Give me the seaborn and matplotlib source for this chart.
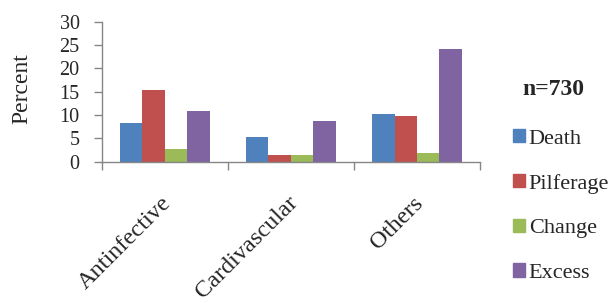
import matplotlib
matplotlib.use("Agg")
import matplotlib.pyplot as plt
from matplotlib.transforms import ScaledTranslation
import seaborn as sns
import pandas as pd

# values (percent)
categories = ["Antinfective", "Cardivascular", "Others"]
death = [8.4, 5.4, 10.3]
pilferage = [15.3, 1.5, 9.9]
change = [2.7, 1.5, 1.8]
excess = [10.9, 8.8, 24.1]
series = ["Death", "Pilferage", "Change", "Excess"]
colors = ["#4F81BD", "#C0504D", "#9BBB59", "#8064A2"]

rows = []
for name, vals in zip(series, [death, pilferage, change, excess]):
    for cat, v in zip(categories, vals):
        rows.append({"Category": cat, "Type": name, "Percent": v})
df = pd.DataFrame(rows)

sns.set_style("white")
plt.rcParams['font.family'] = ['Liberation Serif', 'DejaVu Serif']

fig = plt.figure(figsize=(6.13, 3.03), dpi=100)
ax = fig.add_axes([0.166, 0.466, 0.617, 0.462])

sns.barplot(data=df, x="Category", y="Percent", hue="Type", hue_order=series,
            palette=colors, saturation=1, width=0.71, gap=0, linewidth=0,
            ax=ax, legend=False)

grey = "#868686"
ax.set_ylim(0, 30)
ax.set_xlim(-0.5, 2.5)
ax.set_yticks(range(0, 31, 5))
ax.tick_params(axis="y", length=6, width=1, color=grey, labelsize=14.5, pad=10, direction="out", left=True)
ax.set_xticks([-0.5, 0.5, 1.5, 2.5], minor=True)
ax.tick_params(axis="x", which="minor", length=6, width=1, color=grey, direction="out", bottom=True)
ax.tick_params(axis="x", which="major", length=0, labelsize=17.5, pad=22)
# nudge the rotated category labels so they end near the group centre
shift = ScaledTranslation(-4 / 100, 0, fig.dpi_scale_trans)
for lbl in ax.get_xticklabels():
    lbl.set_rotation(45)
    lbl.set_ha("right")
    lbl.set_rotation_mode("anchor")
    lbl.set_transform(lbl.get_transform() + shift)

sns.despine(ax=ax, top=True, right=True)
for s in ["left", "bottom"]:
    ax.spines[s].set_color(grey)
    ax.spines[s].set_linewidth(1)

ax.set_xlabel("")
ax.set_ylabel("Percent", fontsize=17)
ax.yaxis.set_label_coords(-0.184, 0.52)

fig.text(0.852, 0.703, "n=730", fontsize=17, fontweight="bold", va="center", ha="left")
handles = [plt.Rectangle((0, 0), 1, 1, color=c) for c in colors]
fig.legend(handles, series, loc="upper left", bbox_to_anchor=(0.837, 0.574),
           frameon=False, fontsize=16, handlelength=0.55, handleheight=0.55,
           handletextpad=0.15, labelspacing=1.13, borderpad=0, borderaxespad=0)

fig.savefig("out.png", dpi=100)
